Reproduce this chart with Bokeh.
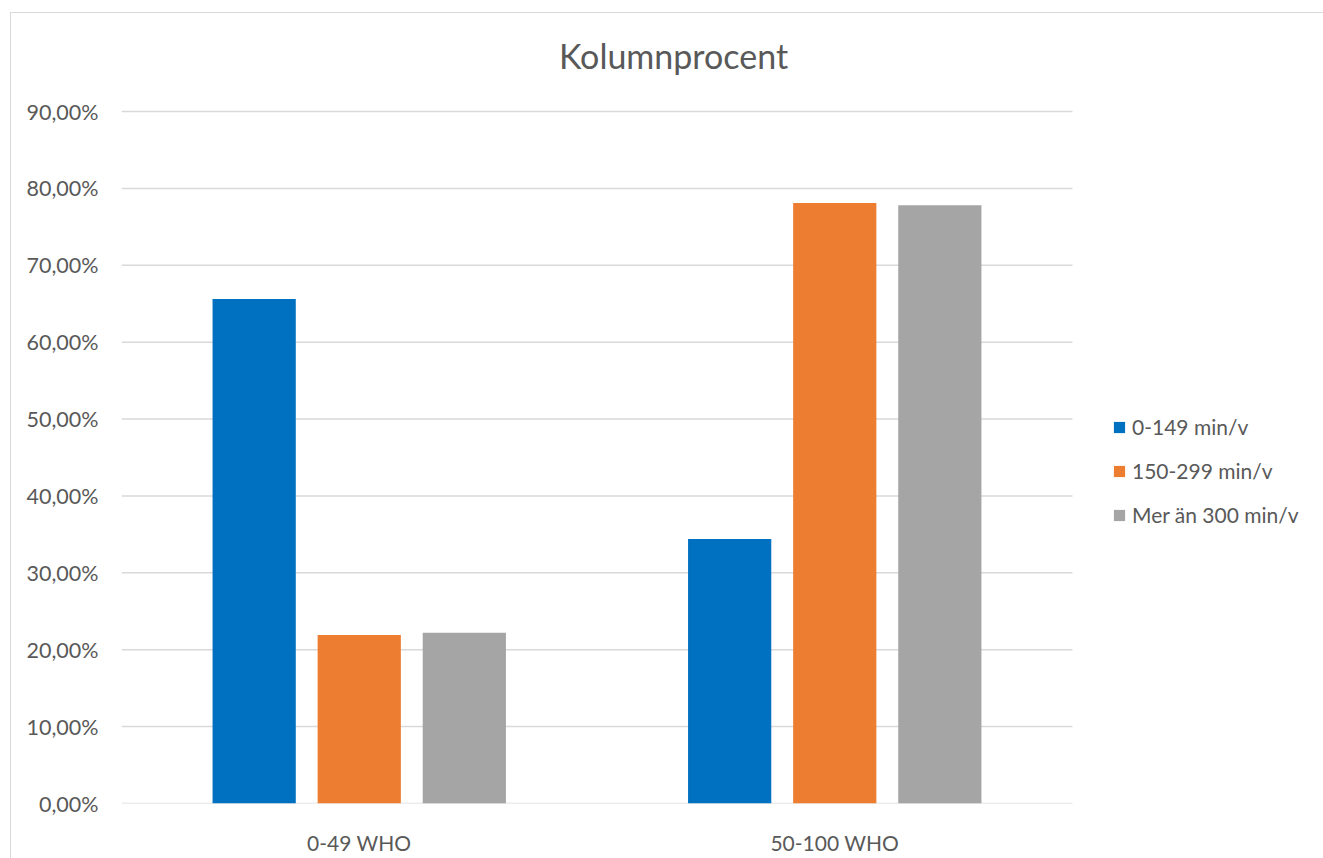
from bokeh.plotting import figure
from bokeh.models import ColumnDataSource, Range1d, FixedTicker, Label, Legend, LegendItem
from bokeh.transform import dodge
from bokeh.embed import file_html
from bokeh.resources import INLINE

categories = ["0-49 WHO", "50-100 WHO"]
series_names = ["0-149 min/v", "150-299 min/v", "Mer än 300 min/v"]
s1_values = [65.6, 34.4]
s2_values = [21.9, 78.1]
s3_values = [22.2, 77.8]
y_ticks = [0, 10, 20, 30, 40, 50, 60, 70, 80, 90]
y_tick_labels = ["0,00%", "10,00%", "20,00%", "30,00%", "40,00%", "50,00%",
                 "60,00%", "70,00%", "80,00%", "90,00%"]
title_text = "Kolumnprocent"

colors = ["#0070C0", "#ED7D31", "#A5A5A5"]
FONT = "Lato"
TXT = "#595959"
GRID = "#D9D9D9"

n_cat = len(categories)
cat_x = [i + 0.5 for i in range(n_cat)]
source = ColumnDataSource(data=dict(x=cat_x, s1=s1_values, s2=s2_values, s3=s3_values))

W, H = 1313, 846
# frame spans the whole chart area so that title and legend are not clipped
p = figure(x_range=Range1d(0, n_cat * 1203 / 951), y_range=Range1d(0, y_ticks[-1] * 790 / 692),
           width=W, height=H, output_backend="svg", toolbar_location=None,
           min_border_left=110, min_border_top=0, min_border_bottom=56, min_border_right=0)
p.margin = (12, 0, 0, 10)
p.styles = {"border-left": "1.5px solid #D9D9D9", "border-top": "1.5px solid #D9D9D9"}
p.outline_line_color = None
p.xgrid.grid_line_color = None
p.ygrid.grid_line_color = None

# horizontal gridlines limited to the category area
p.segment(x0=[0] * len(y_ticks), x1=[n_cat] * len(y_ticks), y0=y_ticks, y1=y_ticks,
          line_color=GRID, line_width=1.5)

renderers = []
offsets = [-0.221, 0.0, 0.221]
for col, off, c in zip(["s1", "s2", "s3"], offsets, colors):
    r = p.vbar(x=dodge("x", off), top=col, width=0.175, source=source,
               fill_color=c, line_color=None)
    renderers.append(r)

p.yaxis.ticker = FixedTicker(ticks=y_ticks)
p.yaxis.major_label_overrides = {t: l for t, l in zip(y_ticks, y_tick_labels)}
p.yaxis.axis_line_color = None
p.yaxis.major_tick_line_color = None
p.yaxis.minor_tick_line_color = None
p.yaxis.major_label_standoff = 17
p.yaxis.major_label_text_font = FONT
p.yaxis.major_label_text_font_size = "21.5px"
p.yaxis.major_label_text_color = TXT

p.xaxis.ticker = FixedTicker(ticks=cat_x)
p.xaxis.major_label_overrides = {x: c for x, c in zip(cat_x, categories)}
p.xaxis.axis_line_color = None
p.xaxis.major_tick_line_color = None
p.xaxis.minor_tick_line_color = None
p.xaxis.major_label_standoff = 20
p.xaxis.major_label_text_font = FONT
p.xaxis.major_label_text_font_size = "21px"
p.xaxis.major_label_text_color = TXT

legend = Legend(items=[LegendItem(label=n, renderers=[r]) for n, r in zip(series_names, renderers)],
                location=(991, 276), border_line_color=None, background_fill_alpha=0,
                margin=0, padding=10, glyph_width=14, glyph_height=14, label_standoff=6,
                label_text_font=FONT, label_text_font_size="21px", label_text_color=TXT,
                label_height=20, spacing=19)
p.add_layout(legend)

title = Label(x=552, y=748, x_units="screen", y_units="screen", text=title_text,
              text_align="center", text_baseline="middle", text_font=FONT,
              text_font_size="34px", text_color=TXT)
p.add_layout(title)

open("out.html", "w").write(file_html(p, INLINE))
